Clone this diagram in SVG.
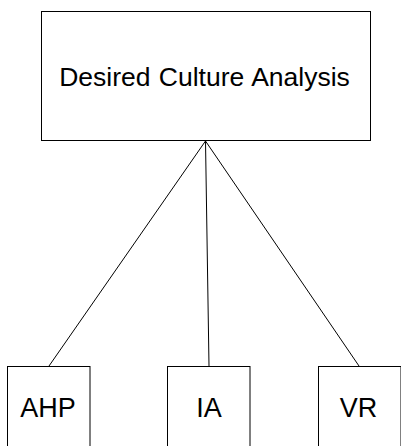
<svg xmlns="http://www.w3.org/2000/svg" width="401" height="446" viewBox="0 0 401 446">
<style>
.box{fill:#fff;stroke:#000;stroke-width:1}
.lbl{font-family:"Liberation Sans",Arial,sans-serif;fill:#000;text-anchor:middle}
.conn line{stroke:#000;stroke-width:1}
</style>
<rect x="0" y="0" width="401" height="446" fill="#fff"/>
<g class="conn" id="connectors">
<line x1="205.5" y1="141" x2="49" y2="366"/>
<line x1="205.5" y1="141" x2="209" y2="366"/>
<line x1="205.5" y1="141" x2="359" y2="366"/>
</g>
<g id="desired">
<rect class="box" x="41.5" y="11.5" width="329" height="129"/>
<text class="lbl" x="204.5" y="86" font-size="26.5" word-spacing="1">Desired Culture Analysis</text>
</g>
<g id="ahp">
<rect class="box" x="7.5" y="366.5" width="82.5" height="100"/>
<text class="lbl" x="48" y="417" font-size="27">AHP</text>
</g>
<g id="ia">
<rect class="box" x="167.5" y="366.5" width="82.5" height="100"/>
<text class="lbl" x="209" y="417" font-size="27">IA</text>
</g>
<g id="vr">
<rect class="box" x="318.5" y="366.5" width="82.5" height="100"/>
<text class="lbl" x="358.5" y="417" font-size="27">VR</text>
</g>
</svg>
